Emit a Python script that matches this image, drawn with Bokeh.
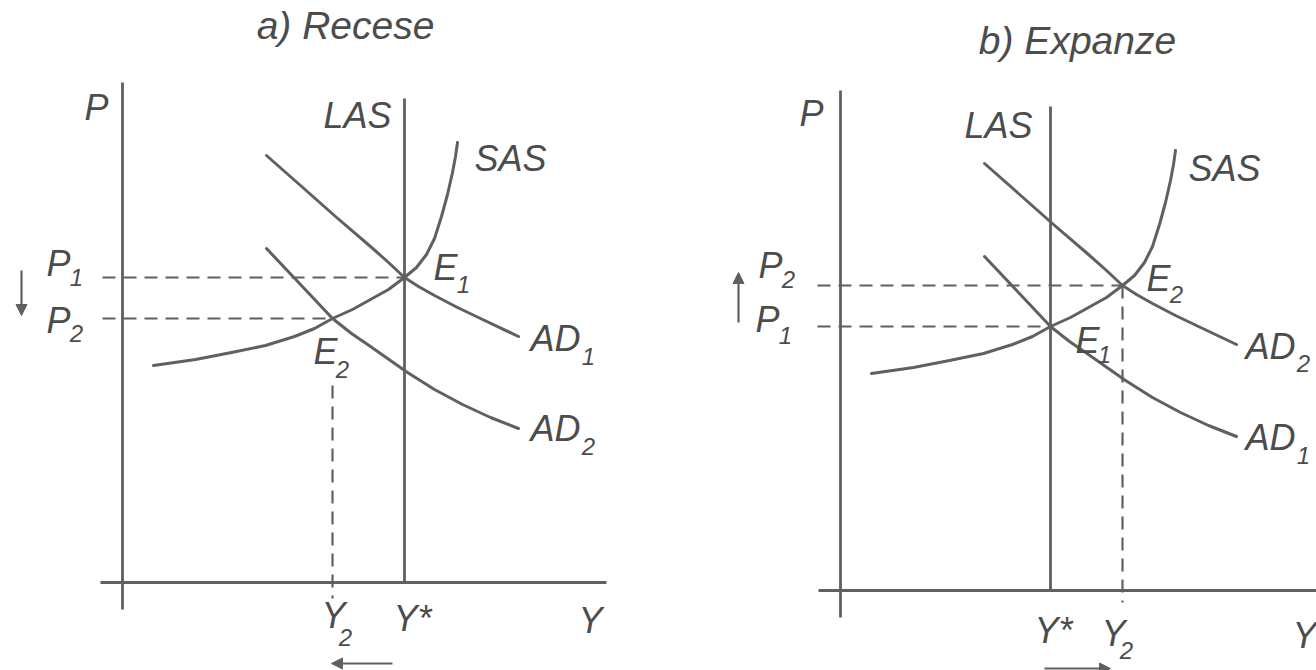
from bokeh.plotting import figure
from bokeh.layouts import row
from bokeh.models import Range1d, Arrow, NormalHead
from bokeh.core.properties import value
from bokeh.embed import file_html
from bokeh.resources import INLINE

# ---------------- data (output Y, price level P) ----------------
# short-run aggregate supply curve (same in both panels)
sas_y = [31, 73, 109, 143, 172, 192, 210, 230, 248, 266, 282, 294, 304, 312, 319, 325, 330, 333, 335]
sas_p = [217, 223, 230, 237, 246, 254, 264, 273, 283, 293, 305, 315, 328, 344, 366, 388, 410, 426, 440]
# higher aggregate demand curve
ad_high_y = [144, 178, 213, 248, 266, 282, 296, 312, 335, 358, 396]
ad_high_p = [427, 397, 366, 336, 320, 305, 296, 287, 275, 264, 246]
# lower aggregate demand curve
ad_low_y = [144, 178, 210, 229, 248, 285, 312, 340, 368, 396]
ad_low_p = [334, 298, 264, 249, 236, 210, 193, 178, 165, 154]
# equilibria
e_high = (282, 305)
e_low = (210, 264)
# axes extents
p_axis = (-27, 500)
y_axis = (-22, 484)
las_top = 484

titles = ["a) Recese", "b) Expanze"]

LINE = "#606060"
TEXT = "#4c4c4c"
FONT = value("Liberation Sans")


def make_panel(x_rng, y_rng):
    p = figure(width=658, height=670, x_range=Range1d(*x_rng), y_range=Range1d(*y_rng),
               x_axis_type=None, y_axis_type=None, toolbar_location=None,
               output_backend="svg", min_border=0)
    p.grid.visible = False
    p.outline_line_color = None
    p.background_fill_color = "white"
    p.border_fill_color = "white"
    # axes
    p.line([0, 0], list(p_axis), line_color=LINE, line_width=2.8)
    p.line(list(y_axis), [0, 0], line_color=LINE, line_width=2.8)
    return p


def label(p, x, y, txt, size="36px", align="center"):
    p.text(x=[x], y=[y], text=[txt], text_font=FONT, text_font_style="italic",
           text_font_size=size, text_color=TEXT, text_align=align, text_baseline="middle")


def sub_label(p, main_xy, main, sub_xy, sub):
    label(p, main_xy[0], main_xy[1], main)
    label(p, sub_xy[0], sub_xy[1], sub, size="24px")


def curves(p):
    kw = dict(line_color=LINE, line_width=3, line_join="round", line_cap="round")
    p.line(sas_y, sas_p, **kw)
    p.line(ad_high_y, ad_high_p, **kw)
    p.line(ad_low_y, ad_low_p, **kw)


def dashed(p, xs, ys):
    p.line(xs, ys, line_color=LINE, line_width=2.2, line_dash="13 8")


def arrow(p, x0, y0, x1, y1):
    p.add_layout(Arrow(end=NormalHead(size=11, fill_color=LINE, line_color=LINE),
                       x_start=x0, y_start=y0, x_end=x1, y_end=y1,
                       line_color=LINE, line_width=2.2))


# ---------------- a) Recese ----------------
pa = make_panel((-122, 536), (-88, 582))
pa.line([e_high[0], e_high[0]], [0, las_top], line_color=LINE, line_width=2.8)  # LAS at Y*
curves(pa)
dashed(pa, [-20, e_high[0]], [e_high[1], e_high[1]])
dashed(pa, [-20, e_low[0]], [e_low[1], e_low[1]])
dashed(pa, [e_low[0], e_low[0]], [197, -16])
label(pa, 223, 557, titles[0], size="39px")
label(pa, -26, 475, "P")
label(pa, 235, 467, "LAS")
label(pa, 388, 424, "SAS")
sub_label(pa, (-64, 319), "P", (-46, 305), "1")
sub_label(pa, (-64, 262), "P", (-46, 249), "2")
sub_label(pa, (323, 315), "E", (341, 298), "1")
sub_label(pa, (203, 231), "E", (220, 213), "2")
sub_label(pa, (433, 244), "AD", (466, 226), "1")
sub_label(pa, (433, 154), "AD", (466, 136), "2")
sub_label(pa, (211, -33), "Y", (223, -55), "2")
label(pa, 290, -36, "Y*")
label(pa, 468, -38, "Y")
arrow(pa, -101, 312, -101, 267)
arrow(pa, 270, -81, 209, -81)

# ---------------- b) Expanze ----------------
pb = make_panel((-182, 476), (-80, 590))
pb.line([e_low[0], e_low[0]], [0, las_top], line_color=LINE, line_width=2.8)  # LAS at Y*
curves(pb)
dashed(pb, [-23, e_high[0]], [e_high[1], e_high[1]])
dashed(pb, [-23, e_low[0]], [e_low[1], e_low[1]])
dashed(pb, [e_high[0], e_high[0]], [e_high[1], -12])
label(pb, 237, 550, titles[1], size="39px")
label(pb, -29, 477, "P")
label(pb, 158, 465, "LAS")
label(pb, 384, 422, "SAS")
sub_label(pb, (-70, 325), "P", (-52, 311), "2")
sub_label(pb, (-73, 271), "P", (-55, 255), "1")
sub_label(pb, (318, 312), "E", (336, 296), "2")
sub_label(pb, (247, 250), "E", (264, 236), "1")
sub_label(pb, (430, 244), "AD", (463, 227), "2")
sub_label(pb, (430, 153), "AD", (463, 135), "1")
label(pb, 213, -40, "Y*")
sub_label(pb, (273, -43), "Y", (286, -60), "2")
label(pb, 464, -45, "Y")
arrow(pb, -102, 268, -102, 318)
arrow(pb, 204, -78, 270, -78)

layout = row(pa, pb)
open("out.html", "w").write(file_html(layout, INLINE))
